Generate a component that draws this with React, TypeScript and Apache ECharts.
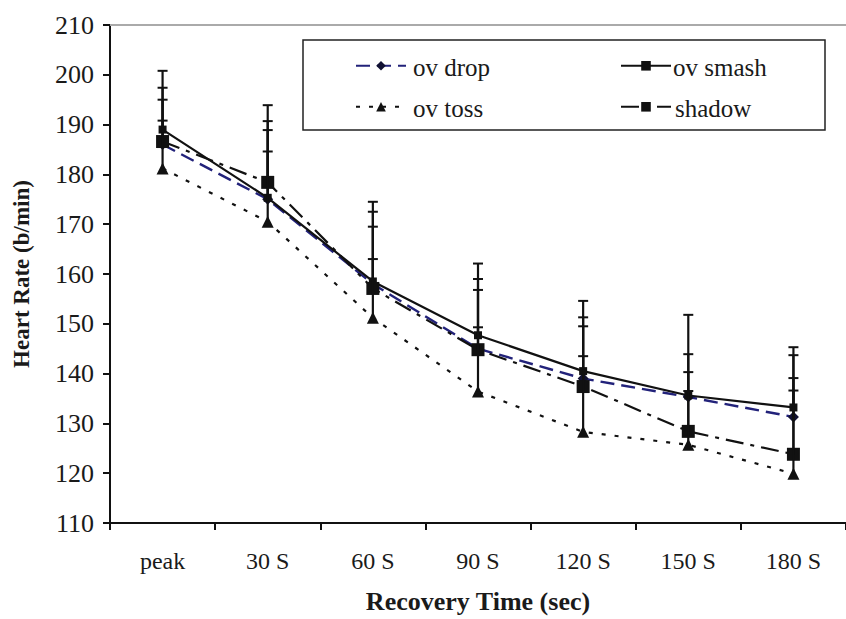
import React, { useEffect, useRef } from "react";
import * as echarts from "echarts";

const categories = ["peak", "30 S", "60 S", "90 S", "120 S", "150 S", "180 S"];
const seriesNames = ["ov drop", "ov smash", "ov toss", "shadow"];
const ovDrop = [186, 175, 158, 145, 139, 135.3, 131.3];
const ovSmash = [189, 175.3, 158.5, 147.7, 140.5, 135.6, 133.2];
const ovToss = [181.2, 170.5, 151.2, 136.4, 128.3, 125.7, 119.9];
const shadow = [186.6, 178.4, 157.1, 144.8, 137.4, 128.4, 123.8];

// upper ends of the (positive-only) error bars
const ovSmashUpper = [200.8, 193.9, 174.5, 162.1, 154.6, 151.8, 145.3];
const ovDropUpper = [197.4, 190.7, 172.5, 159.0, 151.3, 143.9, 143.7];
const shadowUpper = [195.0, 188.9, 169.5, 156.8, 149.5, 140.3, 139.1];
const ovTossUpper = [190.8, 184.6, 163.0, 149.3, 143.5, 136.5, 136.6];

const yTicks = { min: 110, max: 210, interval: 10 };

const FONT = "Liberation Serif";

function errorSeries(name: string, means: number[], uppers: number[]) {
  return {
    type: "custom",
    name,
    z: 5,
    encode: { x: 0, y: [1, 2] },
    data: means.map((m, i) => [i, m, uppers[i]]),
    renderItem: (_params: any, api: any) => {
      const x = api.value(0);
      const lo = api.coord([x, api.value(1)]);
      const hi = api.coord([x, api.value(2)]);
      return {
        type: "group",
        children: [
          {
            type: "line",
            shape: { x1: lo[0], y1: lo[1], x2: hi[0], y2: hi[1] },
            style: { stroke: "#111", lineWidth: 2.2 },
          },
          {
            type: "line",
            shape: { x1: hi[0] - 5, y1: hi[1], x2: hi[0] + 5, y2: hi[1] },
            style: { stroke: "#111", lineWidth: 2 },
          },
        ],
      };
    },
  };
}

// legend slots: [iconLeft, rowCenterY, textX]
const legendSlots: [number, number, number][] = [
  [355, 67, 413],
  [620, 67, 673],
  [355, 108, 413],
  [620, 108, 675],
];

export default function App() {
  const ref = useRef<HTMLDivElement>(null);
  useEffect(() => {
    if (!ref.current) return;
    const chart = echarts.init(ref.current, null, { renderer: "svg" });
    chart.setOption({
      animation: false,
      backgroundColor: "#fff",
      textStyle: { fontFamily: FONT },
      grid: { left: 110, top: 25, width: 747, height: 501 },
      title: seriesNames.map((name, i) => ({
        text: name,
        left: legendSlots[i][2],
        top: legendSlots[i][1] - 15,
        padding: 0,
        z: 10,
        textStyle: {
          fontFamily: FONT,
          fontSize: 25,
          fontWeight: "normal",
          color: "#1a1a1a",
          lineHeight: 30,
        },
      })),
      legend: seriesNames.map((name, i) => ({
        left: legendSlots[i][0],
        top: legendSlots[i][1] - 6,
        padding: 0,
        data: [name],
        itemWidth: 50,
        itemHeight: 12,
        formatter: () => "",
        textStyle: { fontSize: 10, lineHeight: 12 },
      })),
      graphic: [
        {
          type: "rect",
          shape: { x: 303, y: 40, width: 522, height: 90 },
          style: { fill: "#fff", stroke: "#222", lineWidth: 1.5 },
          z: 0,
        },
      ],
      xAxis: [
        {
          type: "category",
          data: categories,
          boundaryGap: true,
          name: "Recovery Time (sec)",
          nameLocation: "middle",
          nameGap: 65,
          nameTextStyle: { fontFamily: FONT, fontSize: 26, fontWeight: "bold", color: "#1a1a1a" },
          axisLine: { lineStyle: { color: "#111", width: 2 } },
          axisTick: { show: true, length: 7, lineStyle: { color: "#111", width: 2 } },
          axisLabel: { fontFamily: FONT, fontSize: 24, color: "#1a1a1a", margin: 26 },
          splitLine: { show: false },
        },
        {
          type: "category",
          data: categories,
          position: "top",
          axisLine: { lineStyle: { color: "#aaa", width: 2 } },
          axisTick: { show: false },
          axisLabel: { show: false },
          splitLine: { show: false },
        },
      ],
      yAxis: {
        type: "value",
        min: yTicks.min,
        max: yTicks.max,
        interval: yTicks.interval,
        name: "Heart Rate (b/min)",
        nameLocation: "middle",
        nameGap: 77,
        nameTextStyle: { fontFamily: FONT, fontSize: 23, fontWeight: "bold", color: "#1a1a1a" },
        axisLine: { show: true, lineStyle: { color: "#111", width: 2 } },
        axisTick: { show: true, length: 7, lineStyle: { color: "#111", width: 2 } },
        axisLabel: { fontFamily: FONT, fontSize: 26, color: "#1a1a1a", margin: 16 },
        splitLine: { show: false },
      },
      series: [
        {
          name: "ov drop",
          type: "line",
          data: ovDrop,
          z: 4,
          symbol: "diamond",
          symbolSize: 11,
          itemStyle: { color: "#111133" },
          lineStyle: { color: "#22227a", width: 2.4, type: [14, 7] },
        },
        {
          name: "ov smash",
          type: "line",
          data: ovSmash,
          z: 4,
          symbol: "rect",
          symbolSize: 8,
          itemStyle: { color: "#111" },
          lineStyle: { color: "#111", width: 2.2 },
        },
        {
          name: "ov toss",
          type: "line",
          data: ovToss,
          z: 4,
          symbol: "triangle",
          symbolSize: 12,
          itemStyle: { color: "#111" },
          lineStyle: { color: "#111", width: 2.2, type: [4, 9] },
        },
        {
          name: "shadow",
          type: "line",
          data: shadow,
          z: 4,
          symbol: "rect",
          symbolSize: 13,
          itemStyle: { color: "#111" },
          lineStyle: { color: "#111", width: 2.2, type: [18, 7, 4, 7] },
        },
        errorSeries("eb smash", ovSmash, ovSmashUpper),
        errorSeries("eb drop", ovDrop, ovDropUpper),
        errorSeries("eb shadow", shadow, shadowUpper),
        errorSeries("eb toss", ovToss, ovTossUpper),
      ],
    });
    return () => chart.dispose();
  }, []);
  return <div ref={ref} style={{ width: 846, height: 619, position: "absolute", left: 0, top: 0 }} />;
}
